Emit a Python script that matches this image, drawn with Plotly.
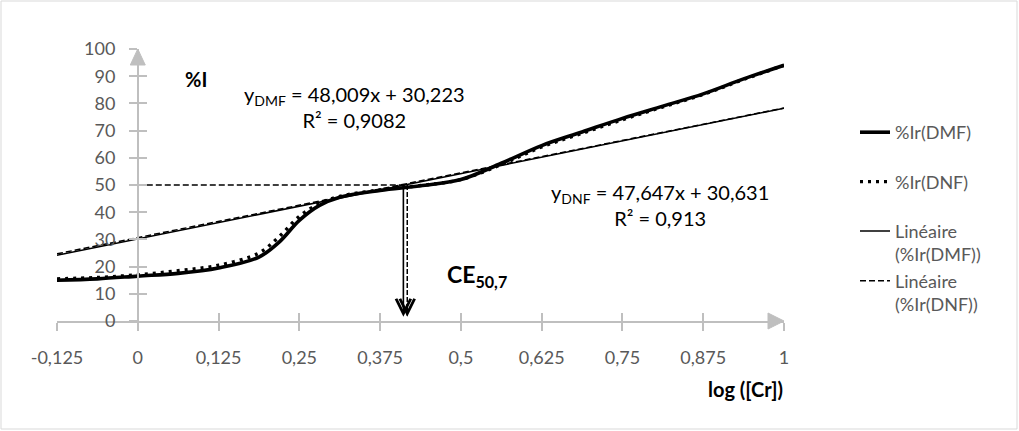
import plotly.graph_objects as go

# ---------------- data ----------------
LOG_CR = [-0.125, -0.0625, 0, 0.0625, 0.125, 0.1875, 0.21875, 0.25, 0.28125,
          0.3125, 0.375, 0.4375, 0.5, 0.5625, 0.625, 0.6875, 0.75, 0.8125,
          0.875, 0.9375, 1]
IR_DMF = [15.0, 15.5, 16.5, 17.5, 19.5, 23.5, 29.0, 37.0, 42.5,
          45.5, 48.0, 49.7, 52.0, 58.0, 64.5, 69.5, 74.5, 79.0,
          83.5, 89.0, 94.0]
IR_DNF = [15.5, 16.0, 17.0, 18.5, 20.5, 25.0, 31.0, 38.5, 43.2,
          45.8, 48.2, 49.8, 52.0, 57.5, 64.0, 69.0, 74.0, 78.7,
          83.3, 88.8, 94.0]

TREND_X = [-0.125, 1]
TREND_DMF = [24.2, 78.2]
TREND_DNF = [24.7, 78.3]

CE_LOG = 0.411     # log concentration at 50 % inhibition
CE_Y = 50

X_TICKS = [-0.125, 0, 0.125, 0.25, 0.375, 0.5, 0.625, 0.75, 0.875, 1]
X_LABELS = ["-0,125", "0", "0,125", "0,25", "0,375", "0,5", "0,625", "0,75", "0,875", "1"]
Y_TICKS = [0, 10, 20, 30, 40, 50, 60, 70, 80, 90, 100]
Y_LABELS = ["0", "10", "20", "30", "40", "50", "60", "70", "80", "90", "100"]

SERIES_NAMES = ["%Ir(DMF)", "%Ir(DNF)", "Linéaire<br>(%Ir(DMF))", "Linéaire<br>(%Ir(DNF))"]

EQ_DMF = "y<sub>DMF</sub> = 48,009x + 30,223<br>R² = 0,9082"
EQ_DNF = "y<sub>DNF</sub> = 47,647x + 30,631<br>R² = 0,913"

# ---------------- layout constants ----------------
W, H = 1019, 431
ML, MR, MT, MB = 57, 235, 49, 110
PW, PH = W - ML - MR, H - MT - MB
XMIN, XMAX = X_TICKS[0], X_TICKS[-1]
YMIN, YMAX = Y_TICKS[0], Y_TICKS[-1]

FONT = "Lato, 'Open Sans', sans-serif"
GREY_TXT = "#595959"
AXIS_COL = "#BFBFBF"


def px_x(p):
    return (p - ML) / PW


def px_y(p):
    return (H - MB - p) / PH


yaxis_pos = (0 - XMIN) / (XMAX - XMIN)

fig = go.Figure()

fig.add_trace(go.Scatter(x=LOG_CR, y=IR_DMF, name=SERIES_NAMES[0], mode="lines",
                         line=dict(color="black", width=3.6, shape="spline"),
                         legendgroup="a"))
fig.add_trace(go.Scatter(x=LOG_CR, y=IR_DNF, name=SERIES_NAMES[1], mode="lines",
                         line=dict(color="black", width=3.4, shape="spline", dash="3px,5px"),
                         legendgroup="b"))
fig.add_trace(go.Scatter(x=TREND_X, y=TREND_DMF, name=SERIES_NAMES[2], mode="lines",
                         line=dict(color="black", width=1.5),
                         legendgroup="c"))
fig.add_trace(go.Scatter(x=TREND_X, y=TREND_DNF, name=SERIES_NAMES[3], mode="lines",
                         line=dict(color="black", width=1.5, dash="6px,3px"),
                         legendgroup="c"))

# guide: horizontal dashed line at 50 %
fig.add_trace(go.Scatter(x=[0, CE_LOG + 0.006], y=[CE_Y, CE_Y], mode="lines",
                         line=dict(color="black", width=1.5, dash="6px,3px"),
                         showlegend=False, hoverinfo="skip"))
# guide: vertical dashed line
fig.add_trace(go.Scatter(x=[CE_LOG + 0.006, CE_LOG + 0.006], y=[CE_Y, YMIN + 2], mode="lines",
                         line=dict(color="black", width=1.5, dash="5px,2px"),
                         showlegend=False, hoverinfo="skip"))

# dummy trace on overlay axes (for crossing tick marks)
fig.add_trace(go.Scatter(x=[], y=[], xaxis="x2", yaxis="y2", showlegend=False,
                         hoverinfo="skip"))

annotations = [
    # solid arrow
    dict(x=CE_LOG, y=YMIN + 1.6, ax=CE_LOG, ay=CE_Y - 0.5, xref="x", yref="y",
         axref="x", ayref="y", showarrow=True, arrowhead=5, arrowsize=1.8,
         arrowwidth=1.6, arrowcolor="black", text=""),
    # arrowhead on dashed line
    dict(x=CE_LOG + 0.006, y=YMIN + 1.6, ax=0, ay=-14, xref="x", yref="y",
         showarrow=True, arrowhead=5, arrowsize=1.8, arrowwidth=1.6,
         arrowcolor="black", text=""),
    dict(x=px_x(183), y=px_y(79), xref="paper", yref="paper", xanchor="left",
         yanchor="middle", text="<b>%I</b>", showarrow=False,
         font=dict(family=FONT, size=20, color="black")),
    dict(x=px_x(354), y=px_y(107), xref="paper", yref="paper", xanchor="center",
         yanchor="middle", text=EQ_DMF, showarrow=False, align="center",
         font=dict(family=FONT, size=20, color="black")),
    dict(x=px_x(660), y=px_y(205), xref="paper", yref="paper", xanchor="center",
         yanchor="middle", text=EQ_DNF, showarrow=False, align="center",
         font=dict(family=FONT, size=20, color="black")),
    dict(x=px_x(445), y=px_y(275), xref="paper", yref="paper", xanchor="left",
         yanchor="middle", text="<b>CE<sub>50,7</sub></b>", showarrow=False,
         font=dict(family=FONT, size=23, color="black")),
    dict(x=px_x(785), y=px_y(389), xref="paper", yref="paper", xanchor="right",
         yanchor="middle", text="<b>log ([Cr])</b>", showarrow=False,
         font=dict(family=FONT, size=20, color="black")),
]

shapes = [
    # outer chart border
    dict(type="rect", xref="paper", yref="paper", x0=px_x(1), x1=px_x(1017),
         y0=px_y(429), y1=px_y(1), line=dict(color="#D9D9D9", width=1),
         fillcolor="rgba(0,0,0,0)", layer="below"),
    # arrow tip of y axis
    dict(type="path", xref="paper", yref="y",
         path=(f"M {yaxis_pos},{YMAX} L {yaxis_pos + 7.5 / PW},{YMAX - 16 * (YMAX - YMIN) / PH} "
               f"L {yaxis_pos - 7.5 / PW},{YMAX - 16 * (YMAX - YMIN) / PH} Z"),
         fillcolor=AXIS_COL, line=dict(color=AXIS_COL, width=1)),
    # arrow tip of x axis
    dict(type="path", xref="x", yref="paper",
         path=(f"M {XMAX},0 L {XMAX - 16 * (XMAX - XMIN) / PW},{8 / PH} "
               f"L {XMAX - 16 * (XMAX - XMIN) / PW},{-8 / PH} Z"),
         fillcolor=AXIS_COL, line=dict(color=AXIS_COL, width=1)),
]

common_x = dict(range=[XMIN, XMAX], tickvals=X_TICKS, showgrid=False, zeroline=False,
                tickcolor=AXIS_COL, ticklen=8, tickwidth=1.5)
common_y = dict(range=[YMIN, YMAX], tickvals=Y_TICKS, showgrid=False, zeroline=False,
                tickcolor=AXIS_COL, ticklen=8, tickwidth=1.5)

fig.update_layout(
    width=W, height=H,
    margin=dict(l=ML, r=MR, t=MT, b=MB, pad=0),
    paper_bgcolor="white", plot_bgcolor="white",
    font=dict(family=FONT, color=GREY_TXT),
    xaxis=dict(**common_x, ticktext=X_LABELS, ticks="outside", showline=True,
               linecolor=AXIS_COL, linewidth=1.5, anchor="y",
               tickfont=dict(family=FONT, size=18, color=GREY_TXT),
               ticklabelstandoff=12),
    yaxis=dict(**common_y, ticktext=Y_LABELS, ticks="outside", showline=True,
               linecolor=AXIS_COL, linewidth=1.5, anchor="free", position=yaxis_pos,
               tickfont=dict(family=FONT, size=18, color=GREY_TXT),
               ticklabelstandoff=10),
    xaxis2=dict(**common_x, overlaying="x", ticks="inside", showticklabels=False,
                showline=False, anchor="y2"),
    yaxis2=dict(**common_y, overlaying="y", ticks="inside", showticklabels=False,
                showline=False, anchor="free", position=yaxis_pos),
    legend=dict(x=px_x(855), y=px_y(114), xanchor="left", yanchor="top",
                traceorder="grouped", tracegroupgap=23, valign="top",
                font=dict(family=FONT, size=18, color=GREY_TXT),
                bgcolor="rgba(0,0,0,0)"),
    annotations=annotations,
    shapes=shapes,
    showlegend=True,
)

fig.write_html("out.html",
               config={"displayModeBar": False},
               post_script="document.body.style.margin='0';document.body.style.overflow='hidden';")
